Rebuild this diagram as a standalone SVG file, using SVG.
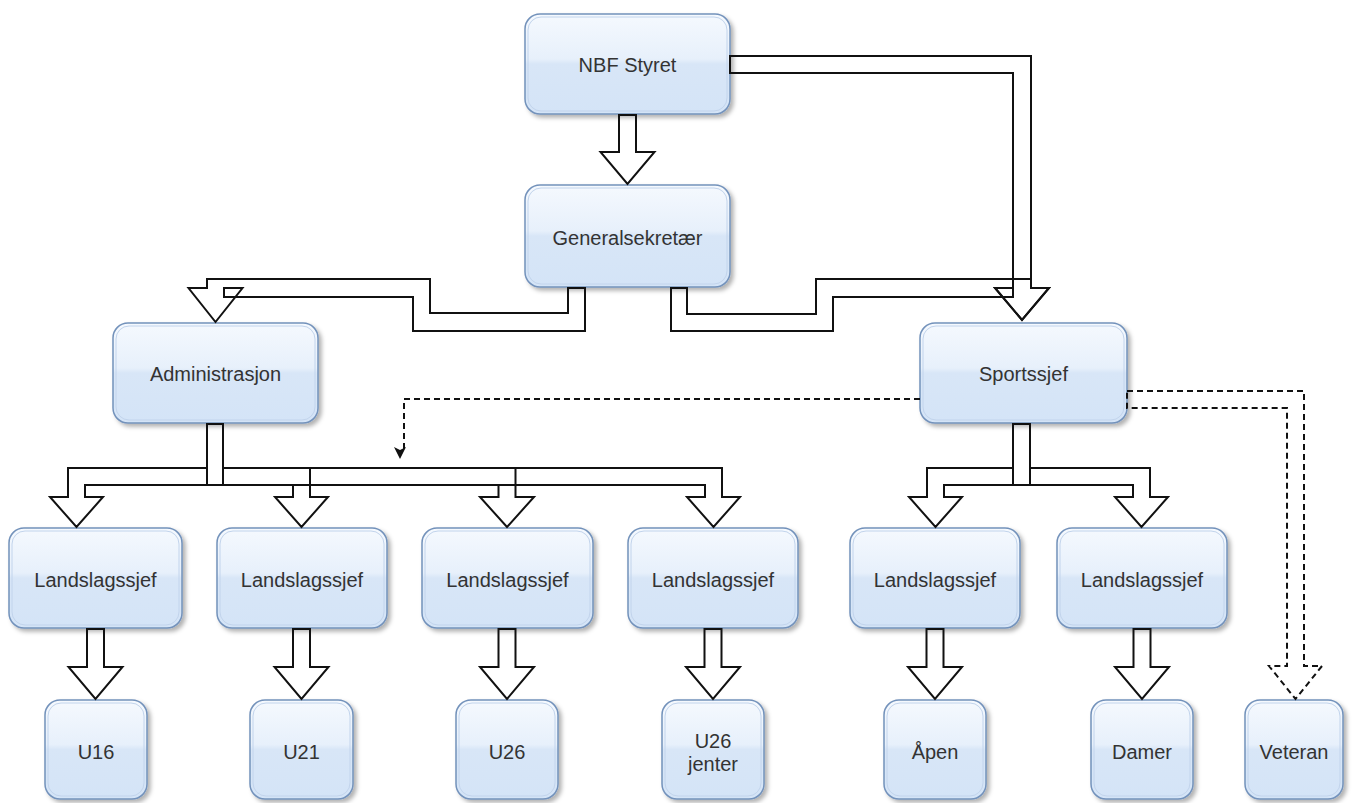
<svg xmlns="http://www.w3.org/2000/svg" width="1354" height="803" viewBox="0 0 1354 803">
<style>
.box{fill:url(#glass);stroke:#7392bb;stroke-width:1.5;filter:url(#sh)}
.inner{fill:none;stroke:#c2d4ec;stroke-width:1}
.lbl{font-family:"Liberation Sans",Arial,sans-serif;font-size:20px;fill:#333;text-anchor:middle}
.fa{fill:none;stroke:#111;stroke-width:2;stroke-linejoin:miter}
.dash{stroke-dasharray:6 4}
</style>
<defs>
<linearGradient id="glass" x1="0" y1="0" x2="0" y2="1">
<stop offset="0" stop-color="#f5f9fe"/>
<stop offset="0.45" stop-color="#e7f0fb"/>
<stop offset="0.5" stop-color="#d8e6f7"/>
<stop offset="1" stop-color="#d4e4f7"/>
</linearGradient>
<filter id="sh" x="-10%" y="-10%" width="125%" height="130%">
<feDropShadow dx="3" dy="3" stdDeviation="2" flood-color="#000" flood-opacity="0.3"/>
</filter>
<marker id="ah" markerWidth="12" markerHeight="12" refX="6" refY="2" orient="auto-start-reverse" markerUnits="userSpaceOnUse" viewBox="0 0 12 12">
<path d="M0,0 L6,3 L12,0 L6,12 Z" fill="#111" transform="rotate(-90 6 6)"/>
</marker>
</defs>
<rect width="1354" height="803" fill="#fff"/>

<g id="n-nbf"><rect class="box" x="525" y="14" width="205" height="100" rx="15"/><rect class="inner" x="528" y="17" width="199" height="94" rx="13"/><text class="lbl" x="627.5" y="72">NBF Styret</text></g>
<g id="n-gen"><rect class="box" x="525" y="185" width="205" height="102" rx="15"/><rect class="inner" x="528" y="188" width="199" height="96" rx="13"/><text class="lbl" x="627.5" y="245">Generalsekretær</text></g>
<g id="n-admin"><rect class="box" x="113" y="323" width="205" height="100" rx="15"/><rect class="inner" x="116" y="326" width="199" height="94" rx="13"/><text class="lbl" x="215.5" y="381">Administrasjon</text></g>
<g id="n-sport"><rect class="box" x="920" y="323" width="207" height="100" rx="15"/><rect class="inner" x="923" y="326" width="201" height="94" rx="13"/><text class="lbl" x="1023.5" y="381">Sportssjef</text></g>

<g id="n-l1"><rect class="box" x="9" y="528" width="173" height="100" rx="15"/><rect class="inner" x="12" y="531" width="167" height="94" rx="13"/><text class="lbl" x="95.5" y="587">Landslagssjef</text></g>
<g id="n-l2"><rect class="box" x="217" y="528" width="170" height="100" rx="15"/><rect class="inner" x="220" y="531" width="164" height="94" rx="13"/><text class="lbl" x="302" y="587">Landslagssjef</text></g>
<g id="n-l3"><rect class="box" x="422" y="528" width="171" height="100" rx="15"/><rect class="inner" x="425" y="531" width="165" height="94" rx="13"/><text class="lbl" x="507.5" y="587">Landslagssjef</text></g>
<g id="n-l4"><rect class="box" x="628" y="528" width="170" height="100" rx="15"/><rect class="inner" x="631" y="531" width="164" height="94" rx="13"/><text class="lbl" x="713" y="587">Landslagssjef</text></g>
<g id="n-l5"><rect class="box" x="850" y="528" width="170" height="100" rx="15"/><rect class="inner" x="853" y="531" width="164" height="94" rx="13"/><text class="lbl" x="935" y="587">Landslagssjef</text></g>
<g id="n-l6"><rect class="box" x="1057" y="528" width="170" height="100" rx="15"/><rect class="inner" x="1060" y="531" width="164" height="94" rx="13"/><text class="lbl" x="1142" y="587">Landslagssjef</text></g>

<g id="n-u16"><rect class="box" x="45" y="700" width="102" height="99" rx="15"/><rect class="inner" x="48" y="703" width="96" height="93" rx="13"/><text class="lbl" x="96" y="759">U16</text></g>
<g id="n-u21"><rect class="box" x="250" y="700" width="103" height="99" rx="15"/><rect class="inner" x="253" y="703" width="97" height="93" rx="13"/><text class="lbl" x="301.5" y="759">U21</text></g>
<g id="n-u26"><rect class="box" x="456" y="700" width="102" height="99" rx="15"/><rect class="inner" x="459" y="703" width="96" height="93" rx="13"/><text class="lbl" x="507" y="759">U26</text></g>
<g id="n-u26j"><rect class="box" x="662" y="700" width="102" height="99" rx="15"/><rect class="inner" x="665" y="703" width="96" height="93" rx="13"/><text class="lbl" x="713" y="748">U26</text><text class="lbl" x="713" y="771">jenter</text></g>
<g id="n-apen"><rect class="box" x="884" y="700" width="102" height="99" rx="15"/><rect class="inner" x="887" y="703" width="96" height="93" rx="13"/><text class="lbl" x="935" y="759">Åpen</text></g>
<g id="n-damer"><rect class="box" x="1091" y="700" width="102" height="99" rx="15"/><rect class="inner" x="1094" y="703" width="96" height="93" rx="13"/><text class="lbl" x="1142" y="759">Damer</text></g>
<g id="n-vet"><rect class="box" x="1245" y="700" width="98" height="99" rx="15"/><rect class="inner" x="1248" y="703" width="92" height="93" rx="13"/><text class="lbl" x="1294" y="759">Veteran</text></g>

<g id="connectors">
<path class="fa" d="M619,115 V152 H600.5 L627.5,184 L654.5,152 H636 V115 Z"/>
<path class="fa" d="M730,56 H1031 V288 H1049 L1022,320 L995,288 H1013 V73 H730 Z"/>
<path class="fa" d="M671,288 V331 H833 V297 H1013 V288 H995 L1022,320 L1049,288 H1031 V279 H816 V314 H687 V288 Z"/>
<path class="fa" d="M568,288 V313 H430 V279 H207 V288 H188.5 L215.5,322 L242.5,288 H224 V297 H413 V331 H585 V288 Z"/>

<path class="fa" d="M207,424 V468 H68 V497 H50 L76.5,527 L103,497 H85 V485 H223 V424 Z"/>
<path class="fa" d="M223,424 V468 H310 V497 H328 L301.5,527 L275,497 H293 V485 H207 V424 Z"/>
<path class="fa" d="M223,424 V468 H515.5 V497 H534 L507,527 L480,497 H498.5 V485 H207 V424 Z"/>
<path class="fa" d="M223,424 V468 H722 V497 H740 L713.5,527 L687,497 H705 V485 H207 V424 Z"/>
<path class="fa" d="M1013,424 V468 H927 V497 H909 L935.5,527 L962,497 H944 V485 H1030 V424 Z"/>
<path class="fa" d="M1030,424 V468 H1150 V497 H1168 L1141.5,527 L1115,497 H1133 V485 H1013 V424 Z"/>

<path class="fa" d="M87,629 V667 H68.5 L95.5,699 L122.5,667 H104 V629 Z"/>
<path class="fa" d="M293,629 V667 H274.5 L301.5,699 L328.5,667 H310 V629 Z"/>
<path class="fa" d="M498.5,629 V667 H480 L507,699 L534,667 H515.5 V629 Z"/>
<path class="fa" d="M704.5,629 V667 H686 L713,699 L740,667 H721.5 V629 Z"/>
<path class="fa" d="M926.5,629 V667 H908 L935,699 L962,667 H943.5 V629 Z"/>
<path class="fa" d="M1133.5,629 V667 H1115 L1142,699 L1169,667 H1150.5 V629 Z"/>

<path class="fa dash" d="M1127,391 H1304 V666 H1322 L1295.5,699 L1269,666 H1287 V408 H1127 Z"/>
<path class="fa dash" d="M920,399 H404 V453" marker-end="url(#ah)"/>
</g>
</svg>
